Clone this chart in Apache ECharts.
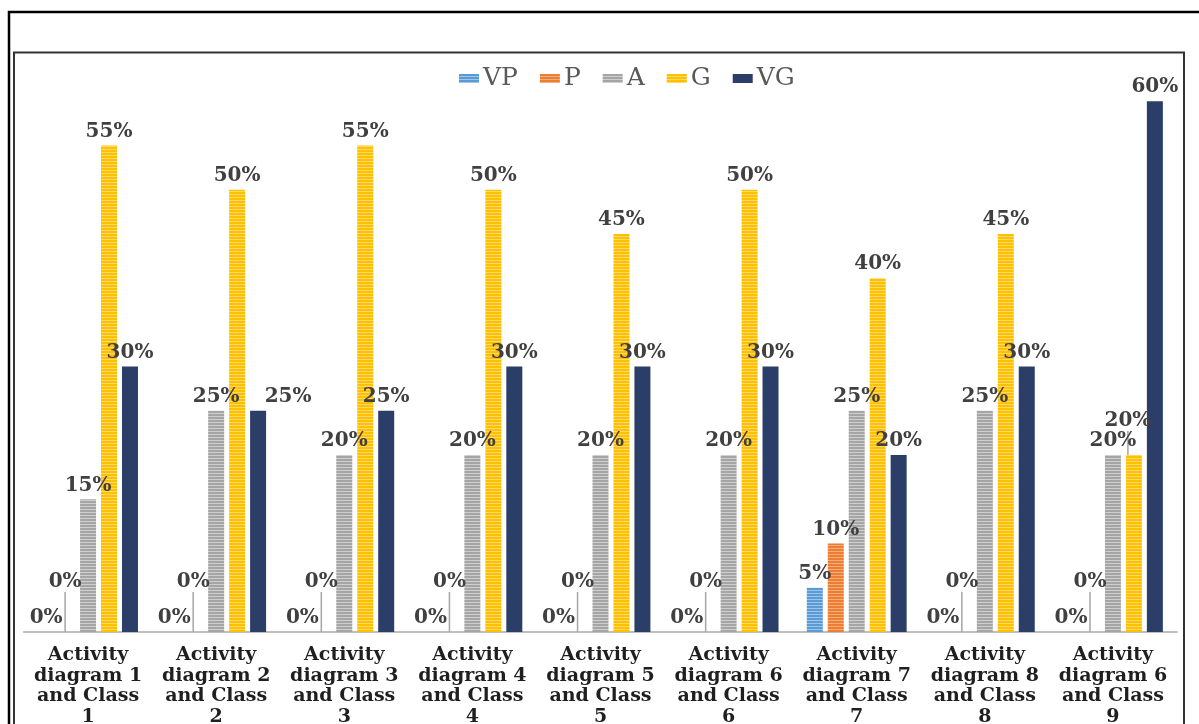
<!DOCTYPE html>
<html>
<head>
<meta charset="utf-8">
<title>Activity and Class diagram ratings</title>
<script src="https://cdn.jsdelivr.net/npm/echarts@6/dist/echarts.min.js"></script>
<style>
  html, body { margin: 0; padding: 0; background: #ffffff; }
  #chart { width: 1199px; height: 724px; }
</style>
</head>
<body>
<div id="chart"></div>
<script>
// Diagram pairs along the x axis
const categories = [
  'Activity\ndiagram 1\nand Class\n1',
  'Activity\ndiagram 2\nand Class\n2',
  'Activity\ndiagram 3\nand Class\n3',
  'Activity\ndiagram 4\nand Class\n4',
  'Activity\ndiagram 5\nand Class\n5',
  'Activity\ndiagram 6\nand Class\n6',
  'Activity\ndiagram 7\nand Class\n7',
  'Activity\ndiagram 8\nand Class\n8',
  'Activity\ndiagram 6\nand Class\n9'
];

// Share of ratings (%) per grade
const seriesNames = ['VP', 'P', 'A', 'G', 'VG'];
const vp = [0, 0, 0, 0, 0, 0, 5, 0, 0];
const p  = [0, 0, 0, 0, 0, 0, 10, 0, 0];
const a  = [15, 25, 20, 20, 20, 20, 25, 25, 20];
const g  = [55, 50, 55, 50, 45, 50, 40, 45, 20];
const vg = [30, 25, 25, 30, 30, 30, 20, 30, 60];

// Horizontal stripe fill for the lighter bars
function stripes(base, light) {
  const c = document.createElement('canvas');
  c.width = 4; c.height = 3;
  const ctx = c.getContext('2d');
  ctx.fillStyle = base; ctx.fillRect(0, 0, 4, 3);
  ctx.fillStyle = light; ctx.fillRect(0, 2, 4, 1);
  return { image: c, repeat: 'repeat' };
}

const fills = [
  stripes('#5b9bd5', '#9ec5ea'),
  stripes('#ed7d31', '#f4ad7c'),
  stripes('#a5a5a5', '#cfcfcf'),
  stripes('#ffc000', '#ffd966'),
  '#2b3e68'
];

const labelFont = {
  fontFamily: 'DejaVu Serif',
  fontWeight: 'bold',
  fontSize: 20,
  color: '#404040'
};

// Label nudges keyed by "series:dataIndex"
const nudges = {
  '3:8': { dx: -6, dy: -20 },
  '4:1': { dx: 30, dy: 0 }
};

function toItems(values, seriesIndex) {
  return values.map((v, i) => {
    const item = { value: v };
    const moved = (seriesIndex === 1 && v === 0) || nudges[seriesIndex + ':' + i];
    if (moved && seriesIndex !== 4) {
      item.labelLine = { show: true, lineStyle: { color: '#a6a6a6', width: 1.5 } };
    }
    return item;
  });
}

const valueSets = [vp, p, a, g, vg];

const chart = echarts.init(document.getElementById('chart'), null, { renderer: 'canvas' });

chart.setOption({
  animation: false,
  backgroundColor: '#ffffff',
  graphic: [
    {
      type: 'rect',
      shape: { x: 9, y: 12, width: 1260, height: 800 },
      style: { fill: 'none', stroke: '#000000', lineWidth: 2.5 },
      silent: true
    },
    {
      type: 'rect',
      shape: { x: 14, y: 52.5, width: 1170, height: 800 },
      style: { fill: 'none', stroke: '#333333', lineWidth: 2 },
      silent: true
    }
  ],
  legend: {
    data: seriesNames,
    icon: 'rect',
    left: 454,
    top: 61,
    itemWidth: 20,
    itemHeight: 9,
    itemGap: 22,
    textStyle: {
      fontFamily: 'DejaVu Serif',
      fontSize: 25,
      color: '#595959',
      padding: [0, 0, 0, -1]
    }
  },
  grid: {
    left: 24,
    right: 22,
    top: 57,
    bottom: 92,
    containLabel: false,
    outerBoundsMode: 'none'
  },
  xAxis: {
    type: 'category',
    data: categories,
    axisLine: { show: true, lineStyle: { color: '#bfbfbf', width: 2 } },
    axisTick: { show: false },
    axisLabel: {
      interval: 0,
      margin: 13,
      fontFamily: 'DejaVu Serif',
      fontWeight: 'bold',
      fontSize: 19,
      lineHeight: 20.5,
      color: '#1f1f1f'
    }
  },
  yAxis: {
    type: 'value',
    min: 0,
    max: 65,
    show: false,
    splitLine: { show: false }
  },
  series: seriesNames.map((name, si) => ({
    name: name,
    type: 'bar',
    barWidth: 16,
    barGap: '31%',
    barCategoryGap: '22%',
    itemStyle: { color: fills[si] },
    label: Object.assign({
      show: true,
      position: 'top',
      distance: 4,
      formatter: '{c}%'
    }, labelFont),
    labelLine: { show: false, lineStyle: { color: '#a6a6a6', width: 1.5 } },
    labelLayout: function (params) {
      const key = params.seriesIndex + ':' + params.dataIndex;
      if (nudges[key]) return nudges[key];
      if (params.seriesIndex === 1 && valueSets[1][params.dataIndex] === 0) {
        return { dx: -2, dy: -36 };
      }
      return {};
    },
    data: toItems(valueSets[si], si)
  }))
});
</script>
</body>
</html>
